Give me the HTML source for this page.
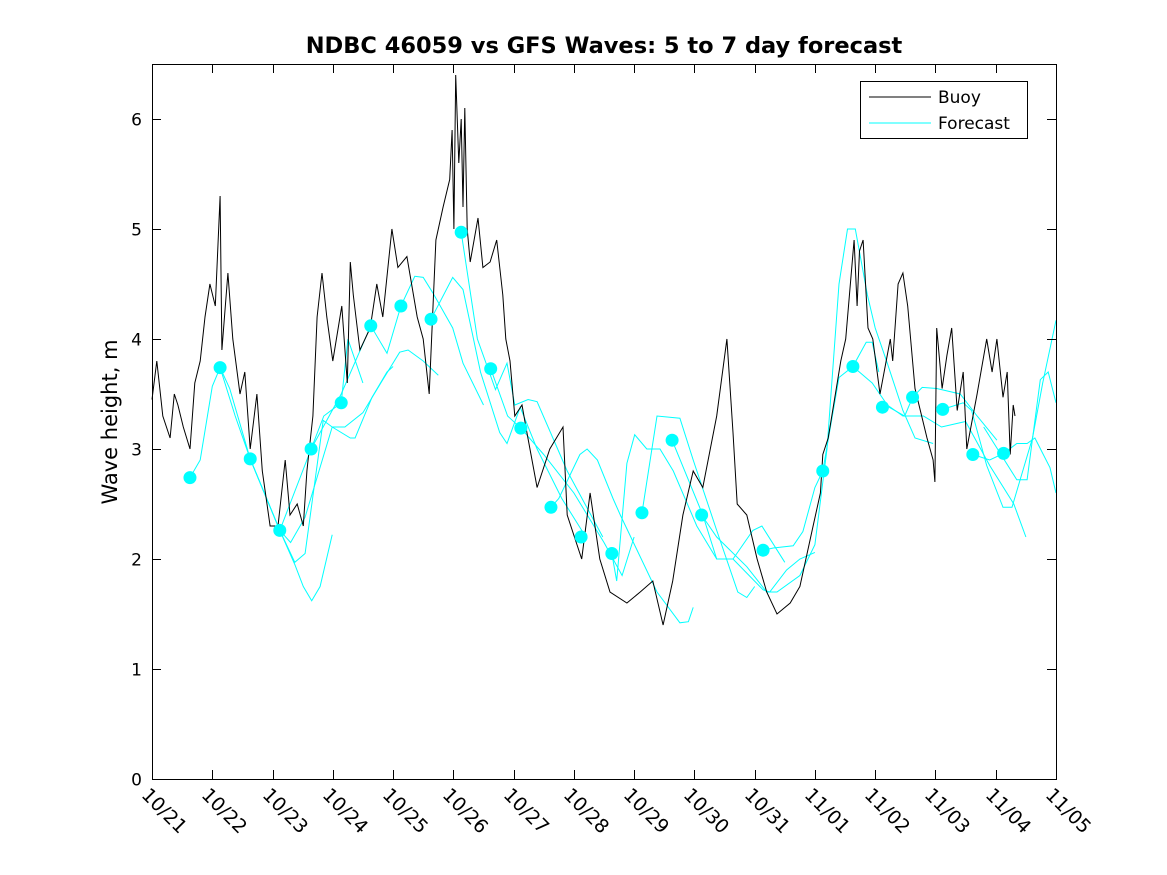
<!DOCTYPE html>
<html><head><meta charset="utf-8"><style>
html,body{margin:0;padding:0;background:#fff;}
svg{display:block;font-family:"DejaVu Sans","Liberation Sans",sans-serif;}
</style></head><body>
<svg id="chart" width="1167" height="875" viewBox="0 0 1167 875" xmlns="http://www.w3.org/2000/svg">
<rect x="0" y="0" width="1167" height="875" fill="#fff"/>
<text x="604" y="53" text-anchor="middle" font-size="22.5" font-weight="bold">NDBC 46059 vs GFS Waves: 5 to 7 day forecast</text>
<text transform="translate(117,422) rotate(-90)" text-anchor="middle" font-size="21">Wave height, m</text>
<g id="plot"></g>
<g id="axes"></g>
<g>
<rect x="860.5" y="81.5" width="167" height="57" fill="#fff" stroke="#000"/>
<line x1="869" y1="97" x2="931" y2="97" stroke="#000"/>
<text x="938" y="103" font-size="17">Buoy</text>
<line x1="869" y1="123" x2="931" y2="123" stroke="#00ffff"/>
<text x="938" y="129" font-size="17">Forecast</text>
</g>
</svg>
<script>
const xTickLabels=["10/21","10/22","10/23","10/24","10/25","10/26","10/27","10/28","10/29","10/30","10/31","11/01","11/02","11/03","11/04","11/05"];
const yTicks=[0,1,2,3,4,5,6];
const buoyDays=[0,0.08,0.18,0.30,0.37,0.43,0.52,0.63,0.71,0.80,0.88,0.96,1.05,1.13,1.16,1.26,1.34,1.46,1.54,1.63,1.74,1.83,1.96,2.09,2.21,2.29,2.41,2.51,2.57,2.67,2.74,2.82,2.90,3.00,3.15,3.24,3.29,3.34,3.45,3.62,3.73,3.83,3.98,4.08,4.23,4.40,4.50,4.60,4.71,4.83,4.94,4.98,5.01,5.04,5.09,5.13,5.16,5.19,5.23,5.28,5.41,5.49,5.61,5.72,5.82,5.87,5.94,6.02,6.14,6.22,6.39,6.60,6.82,6.89,7.13,7.27,7.43,7.60,7.88,8.10,8.31,8.48,8.64,8.81,8.98,9.14,9.37,9.54,9.64,9.71,9.87,10.04,10.20,10.37,10.59,10.75,10.97,11.09,11.13,11.22,11.43,11.51,11.65,11.70,11.74,11.80,11.88,11.96,12.08,12.25,12.29,12.38,12.46,12.54,12.66,12.86,12.96,12.99,13.02,13.11,13.19,13.27,13.36,13.46,13.52,13.69,13.85,13.94,14.02,14.12,14.19,14.24,14.29,14.32];
const buoyValues=[3.45,3.8,3.3,3.1,3.5,3.4,3.2,3.0,3.6,3.8,4.2,4.5,4.3,5.3,3.9,4.6,4.0,3.5,3.7,3.0,3.5,2.8,2.3,2.3,2.9,2.4,2.5,2.3,2.8,3.3,4.2,4.6,4.2,3.8,4.3,3.6,4.7,4.4,3.9,4.1,4.5,4.2,5.0,4.65,4.75,4.2,4.0,3.5,4.9,5.2,5.45,5.9,5.0,6.4,5.6,6.0,5.2,6.1,5.0,4.7,5.1,4.65,4.7,4.9,4.4,4.0,3.8,3.3,3.4,3.15,2.65,3.0,3.2,2.4,2.0,2.6,2.0,1.7,1.6,1.7,1.8,1.4,1.8,2.4,2.8,2.65,3.3,4.0,3.15,2.5,2.4,2.0,1.7,1.5,1.6,1.75,2.3,2.6,2.95,3.1,3.8,4.0,4.9,4.3,4.8,4.9,4.1,4.0,3.5,4.0,3.8,4.5,4.6,4.3,3.55,3.1,2.9,2.7,4.1,3.55,3.85,4.1,3.35,3.7,3.0,3.5,4.0,3.7,4.0,3.47,3.7,2.95,3.4,3.3];
const markerDays=[0.63,1.13,1.63,2.12,2.64,3.14,3.63,4.13,4.63,5.13,5.62,6.12,6.62,7.12,7.63,8.13,8.63,9.12,10.14,11.13,11.63,12.12,12.62,13.12,13.62,14.13];
const markerValues=[2.74,3.74,2.91,2.26,3.0,3.42,4.12,4.30,4.18,4.97,3.73,3.19,2.47,2.20,2.05,2.42,3.08,2.40,2.08,2.80,3.75,3.38,3.47,3.36,2.95,2.96];
const fcDays1=[0.63,0.80,1.00,1.13,1.38,1.63,1.91,2.12,2.37,2.51,2.65,2.79,2.99];
const fcVals1=[2.74,2.9,3.57,3.74,3.3,2.91,2.54,2.26,1.95,1.75,1.62,1.75,2.22];
const fcDays2=[1.13,1.29,1.63,2.12,2.37,2.54,2.84,2.99,3.29,3.37,3.65,3.90,4.0];
const fcVals2=[3.74,3.55,2.91,2.26,1.97,2.05,3.26,3.2,3.1,3.1,3.47,3.7,3.75];
const fcDays3=[1.63,2.12,2.30,2.54,2.99,3.20,3.50,3.83,4.11,4.25,4.50,4.75];
const fcVals3=[2.91,2.26,2.15,2.38,3.2,3.2,3.33,3.63,3.88,3.9,3.8,3.67];
const fcDays4=[2.12,2.64,2.85,3.14,3.25,3.50];
const fcVals4=[2.26,3.0,3.3,3.42,4.0,3.6];
const fcDays5=[2.64,3.14,3.63,3.90,4.13,4.36,4.50,4.66,4.99,5.16,5.50];
const fcVals5=[3.0,3.5,4.12,3.87,4.30,4.57,4.56,4.42,4.1,3.78,3.4];
const fcDays6=[4.63,4.99,5.16,5.45,5.77,5.89,6.11,6.39,6.80,7.20];
const fcVals6=[4.18,4.56,4.45,3.7,3.15,3.05,3.38,3.0,2.55,2.2];
const fcDays7=[5.13,5.40,5.70,5.89,6.02,6.24,6.39,6.89,7.48];
const fcVals7=[4.97,4.0,3.54,3.78,3.4,3.45,3.43,2.8,2.2];
const fcDays8=[5.62,5.90,6.12,6.50,7.00,7.50,7.80,8.00];
const fcVals8=[3.73,3.3,3.19,2.95,2.6,2.15,1.85,2.2];
const fcDays9=[6.62,6.75,7.10,7.22,7.39,7.65,7.77,8.38,8.76,8.90,8.98];
const fcVals9=[2.47,2.55,2.95,3.0,2.9,2.55,2.4,1.7,1.42,1.43,1.56];
const fcDays10=[7.63,7.71,7.88,8.01,8.21,8.43,8.65,9.04,9.37,9.64,10.14,10.25,10.53,10.75,11.0];
const fcVals10=[2.05,1.8,2.87,3.13,3.0,3.0,2.8,2.3,2.0,2.0,1.72,1.7,1.9,2.0,2.06];
const fcDays11=[8.13,8.38,8.76,8.98,9.37,9.72,9.87,10.0];
const fcVals11=[2.42,3.3,3.28,2.9,2.26,1.7,1.65,1.75];
const fcDays12=[8.63,9.14,9.37,9.64,9.97,10.12,10.50];
const fcVals12=[3.08,2.4,2.0,2.0,2.26,2.3,1.97];
const fcDays13=[9.12,9.37,9.87,10.20,10.37,10.75,11.0,11.20,11.40,11.54,11.67,11.87,12.0,12.20,12.46,12.66,12.96];
const fcVals13=[2.4,2.2,1.93,1.7,1.7,1.85,2.13,3.0,4.5,5.0,5.0,4.4,4.1,3.78,3.35,3.1,3.05];
const fcDays14=[10.14,10.31,10.64,10.80,11.0,11.13,11.40,11.63,11.85,11.95,12.06];
const fcVals14=[2.08,2.1,2.12,2.25,2.65,2.8,3.65,3.75,3.97,3.97,3.7];
const fcDays15=[11.63,11.95,12.20,12.46,12.80,13.10,13.50,13.90,14.30,14.50];
const fcVals15=[3.75,3.6,3.4,3.3,3.3,3.2,3.25,2.85,2.5,2.2];
const fcDays16=[12.12,12.23,12.49,12.62,12.78,13.02,13.41,13.69,14.02];
const fcVals16=[3.38,3.38,3.3,3.47,3.56,3.55,3.5,3.3,3.08];
const fcDays17=[13.12,13.46,13.60,13.85,14.12,14.27,14.61,14.78,15.0];
const fcVals17=[3.36,3.42,3.35,2.85,2.47,2.47,3.1,3.6,4.17];
const fcDays18=[13.62,13.90,14.13,14.35,14.52,14.65,14.90,15.0];
const fcVals18=[2.95,2.9,2.96,3.05,3.05,3.1,2.83,2.6];
const fcDays19=[13.80,14.35,14.52,14.74,14.87,15.0];
const fcVals19=[3.2,2.72,2.72,3.63,3.7,3.42];
const forecastDays=[fcDays1,fcDays2,fcDays3,fcDays4,fcDays5,fcDays6,fcDays7,fcDays8,fcDays9,fcDays10,fcDays11,fcDays12,fcDays13,fcDays14,fcDays15,fcDays16,fcDays17,fcDays18,fcDays19];
const forecastVals=[fcVals1,fcVals2,fcVals3,fcVals4,fcVals5,fcVals6,fcVals7,fcVals8,fcVals9,fcVals10,fcVals11,fcVals12,fcVals13,fcVals14,fcVals15,fcVals16,fcVals17,fcVals18,fcVals19];

const NS="http://www.w3.org/2000/svg";
const L=152,R=1056,T=64,B=779,DAYS=15,YMAX=6.5;
function xs(d){return L+(d/DAYS)*(R-L);}
function ys(v){return B-(v/YMAX)*(B-T);}
function mk(tag,attrs,parent){const e=document.createElementNS(NS,tag);for(const k in attrs)e.setAttribute(k,attrs[k]);parent.appendChild(e);return e;}
const plot=document.getElementById('plot'),axes=document.getElementById('axes');

forecastDays.forEach((ds,i)=>{
  const pts=ds.map((d,j)=>xs(d).toFixed(1)+','+ys(forecastVals[i][j]).toFixed(1)).join(' ');
  const p=mk('polyline',{points:pts,fill:'none',stroke:'#00ffff','stroke-width':1},plot);
  
  
});
const bp=mk('polyline',{points:buoyDays.map((d,j)=>xs(d).toFixed(1)+','+ys(buoyValues[j]).toFixed(1)).join(' '),fill:'none',stroke:'#000','stroke-width':1},plot);


markerDays.forEach((d,j)=>{
  const c=mk('circle',{cx:xs(d),cy:ys(markerValues[j]),r:6.5,fill:'#00ffff'},plot);
  
  
});

const box=mk('rect',{x:L+0.5,y:T+0.5,width:R-L,height:B-T,fill:'none',stroke:'#000'},axes);


yTicks.forEach(v=>{
  const y=Math.round(ys(v))+0.5;
  mk('line',{x1:L,y1:y,x2:L+9,y2:y,stroke:'#000'},axes);
  mk('line',{x1:R-9,y1:y,x2:R,y2:y,stroke:'#000'},axes);
  const t=mk('text',{x:L-10,y:y+6,'text-anchor':'end','font-size':17},axes);
  t.textContent=v;
  
  
});
xTickLabels.forEach((lab,i)=>{
  const x=Math.round(xs(i))+0.5;
  mk('line',{x1:x,y1:B,x2:x,y2:B-9,stroke:'#000'},axes);
  mk('line',{x1:x,y1:T,x2:x,y2:T+9,stroke:'#000'},axes);
  const t=mk('text',{transform:'translate('+(x-12)+','+(B+17)+') rotate(45)','font-size':19},axes);
  t.textContent=lab;
  
  
});
</script>
</body></html>
